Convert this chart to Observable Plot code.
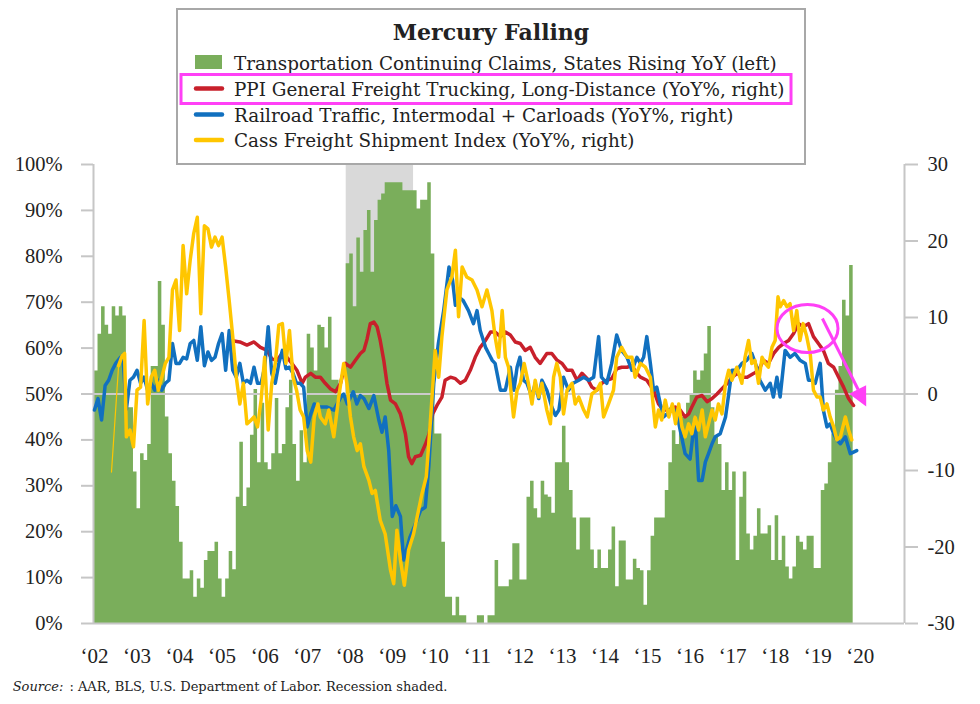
<!DOCTYPE html>
<html><head><meta charset="utf-8">
<script src="https://cdn.jsdelivr.net/npm/d3@7"></script>
<script src="https://cdn.jsdelivr.net/npm/@observablehq/plot@0.6"></script>
<style>
body{margin:0;background:#fff;}
#wrap{position:relative;width:980px;height:704px;overflow:hidden;background:#fff;}
#chart{position:absolute;left:0;top:0;}
#overlay{position:absolute;left:0;top:0;}
</style></head>
<body>
<div id="wrap"><div id="chart"></div>
<svg id="overlay" width="980" height="704" font-family="'DejaVu Serif', serif" fill="#222">
  <rect x="177" y="9" width="628" height="155" fill="#fff" stroke="#a8a8a8" stroke-width="2"/>
  <text x="491" y="40" text-anchor="middle" font-weight="bold" font-size="22">Mercury Falling</text>
  <rect x="195" y="55" width="27" height="14" fill="#7aae5b"/>
  <line x1="196" x2="222" y1="88.5" y2="88.5" stroke="#c8202b" stroke-width="4.5" stroke-linecap="round"/>
  <line x1="196" x2="222" y1="114.5" y2="114.5" stroke="#1170bf" stroke-width="4.5" stroke-linecap="round"/>
  <line x1="196" x2="222" y1="140" y2="140" stroke="#ffc600" stroke-width="4.5" stroke-linecap="round"/>
  <g font-size="18.35">
    <text x="234" y="70">Transportation Continuing Claims, States Rising YoY (left)</text>
    <text x="234" y="95.7">PPI General Freight Trucking, Long-Distance (YoY%, right)</text>
    <text x="234" y="121.7">Railroad Traffic, Intermodal + Carloads (YoY%, right)</text>
    <text x="234" y="147.3">Cass Freight Shipment Index (YoY%, right)</text>
  </g>
  <rect x="181" y="74.5" width="610" height="29" fill="none" stroke="#ff40f6" stroke-width="3"/>
  <text x="12.7" y="690.7" font-size="13"><tspan font-style="italic">Source:</tspan><tspan dx="6">: AAR, BLS, U.S. Department of Labor. Recession shaded.</tspan></text>
</svg>
</div>
<script>
// ---------- data ----------
const startYear = 2002; // month index 0 = Jan 2002
// Transportation continuing claims, % of states rising YoY (left axis), monthly Jan 2002 – Oct 2019
const claimsPct = [
55,63,69,65,63,69,67,69,67,47,
47,33,25,37,35.5,39,56,56,74.5,65,
45,37,31,25.5,17.7,9.7,9.7,11.5,5.7,9.7,
7.7,13.7,15.7,15.7,17.7,9.7,5.7,9.7,15.7,11.7,
27.5,39.5,25.5,29.5,41,51,35,48,35,33.5,
37,49,37,39,47,53,39,31,42,35,
63,60,55,65,64.5,60,66.7,53,53,50,
50,78.4,80.5,69,84,76.5,85.6,90,76.5,87.8,
92.2,93.6,96,96,96,96,96,94.3,94.3,94.3,
94.3,90.3,92.2,92.2,96,80.5,41.3,41.3,17.7,5.7,
5.7,1.7,5.7,1.7,1.7,0,0,0,1.7,1.7,
0,1.7,1.7,13.7,8,8,8,9.5,17.4,17.4,
9.5,9.5,27.5,31,25,23,31,28,27.5,24,
35,35,43,35,29,23,16,23,23,23,
16,12,16,12,12,16,21,8,18,18,
9.5,9.5,14,12,11.5,4,11.5,19,23,23,
23,29,35,42,39,45,45,48,50,55,
53,55,58.7,64.7,47,40.6,39,29,35,29,
33,13.7,27.5,33,19.5,16,19,25,19.5,19.5,
21.3,13.7,23.5,13.7,19,12.3,9.7,12.3,19,17.7,
16,19,19,12,12,29,30.4,35,41.3,50.8,
56,70.4,67,78];

// [month index, YoY %] (right axis)
const ppiSeries = [
[38.5,7.0],[41,6.8],[43,6.4],[45,6.8],[46.8,6.1],[48.7,5.7],[50,4.6],[51.5,4.4],[52.9,5.3],[54.3,4.8],[55.7,4.0],[57.1,3.1],[58.6,1.4],[59.5,2.2],[61,2.7],[62.3,2.2],
[63.7,2.2],[65.1,1.4],[66.5,0.7],[68,0.3],[69.4,1.4],[70.8,4.0],[72.2,3.5],[73.6,4.4],[75,5.3],[76,5.7],[76.9,7.2],[77.8,9.2],[78.8,9.4],[79.7,8.8],[80.6,7.0],[81.6,4.4],[82.5,1.4],[83.5,-0.8],[84.9,-1.3],[86.3,-2.6],[87.7,-5.2],[88.6,-8.2],[89.5,-9.1],[90.5,-8.2],[92,-8.0],[93.4,-6.5],[94.4,-5.2],[95.4,-2.6],[96.6,-1.5],[98,-0.4],[98.9,1.8],[100.4,2.2],[101.8,2.0],[103.2,1.4],[104.6,1.8],[106,3.1],[107.4,4.8],[108.8,6.1],[110.3,7.0],[111.7,8.1],[113,8.1],[114.5,7.5],[115.9,8.1],[117.3,7.7],[118.7,6.8],[120.1,6.6],[121.5,5.7],[122.9,6.1],[124.3,4.8],[125.7,4.0],[127.6,5.3],[129,5.3],[130.5,4.4],[131.9,4.0],[133.3,3.1],[134.7,3.1],[136.1,1.8],[137.5,2.7],[139,2.0],[140.3,0.9],[141.7,0.5],[143.1,1.4],[144.5,1.8],[145.9,2.0],[147.3,3.3],[148.7,3.5],[150.2,3.5],[151.6,3.7],[153,2.7],
[154,2.2],[155.8,1.8],[157.7,0.5],[159.1,-1.3],[160.5,-2.1],[162.4,-2.1],[163.8,-1.7],[165.2,-2.1],[166.6,-3],[167.6,-2.6],[168.5,-1.7],[169.9,-0.4],[171.4,-0.2],[172.8,-1.0],[174.2,-0.6],[175.6,0],[177,0.7],[178.5,1.4],[179.9,2.2],[181.3,2.7],[182.7,2.2],[184.1,2.2],[186,2.7],[187.3,3.1],[188.7,4.4],[190.1,4.0],[191.6,5.3],[193,6.1],[194.4,6.6],[195.8,7.0],[197.2,7.9],[198.6,9.2],[200,8.8],[201.4,9.2],[202.8,7.5],[204.2,6.6],[205.6,5.7],[207,4.0],[208.5,3.5],[209.9,2.2],[211.3,0.9],[212.7,-0.6],[214.1,-1.5]];

const railSeries = [
[0,-2.1],[1,-0.6],[2,-3.4],[3,1.1],[4,1.8],[5,3.1],[6,4.0],[7,4.6],[8,5.1],[9,-2.0],[10,1.8],[11,2.2],[12,3.1],[13,1.4],[14,2.2],[15,0.5],[16,1.4],[17,0.5],[18,1.8],[19,0.5],[20,1.4],[21,1.8],[22,6.6],[23,4.0],[24,4.0],[25,4.8],[26,4.6],[27,6.6],[28,7.0],[29,4.4],[30,8.8],[31,3.7],[32,5.5],[33,4.4],[34,4.8],[35,6.6],[36,7.9],[37,3.1],[38,8.3],[39,3.1],[40,2.2],[41,4.0],[42,1.4],[43,1.8],[44,1.4],[45,3.5],[46,1.4],[47,1.4],[48,3.5],[49,8.8],[50,2.7],[51,1.4],[52,4.0],[53,5.7],[54,3.3],[55,3.5],[56,2.7],[57,1.4],[58,1.4],[59,0.9],[60,-4.3],[61,-2.6],[62,-1.3],[63,-1.7],
[65.6,-1.7],[67.5,-2.1],[69.5,-0.4],[70.3,0],[71.3,-1.3],[73,0.3],[74,-1.3],[75,-0.2],[76,-0.6],[77.4,-1.9],[78.8,-0.2],[80.2,-3.4],[81.1,-5],[82,-3],[83,-7.4],[84,-16],[85,-14.6],[86.3,-16],[87.2,-21.7],[88,-20.4],[89,-18.7],[90.5,-17],[92,-15.2],[93.3,-14.8],[94.3,-9.5],[95.7,1.4],[97,6.6],[98.5,10.9],[100,16.6],[101,14.9],[101.8,11.6],[102.7,12.7],[104,12.2],[105.5,10.9],[106.9,9.2],[107.9,10.9],[108.8,8.3],[110.3,6.1],[111.2,5.3],[112.2,4.4],[113,4.0],[114.5,0.5],[115.9,0.5],[117.3,3.5],[118.3,0.5],[119.2,3.5],[120,4.8],[121,1.8],[122,1.4],[123.4,-0.4],[124.3,1.4],[125.3,-0.6],[126.2,1.8],[127.6,0.5],[129,-1.7],[130,-2.8],[131,-2.1],[132.3,2.2],[133.7,0.5],[135,1.4],[136.6,1.8],[138,2.2],[139.4,1.8],[140.8,2.2],[142.2,7.5],[143,2.2],[144.5,1.4],[145.9,4.0],[147.3,7.7],[148.7,5.7],[150.2,4.8],[151.6,3.1],[153,4.8],
[154,4.0],[154.9,4.8],[155.8,7.5],[156.8,4.0],[157.7,0.5],[158.6,0.9],[159.6,-1.3],[160.5,-3],[161.5,-2.6],[162.9,-1.7],[164.3,-2.6],[165.2,-4.7],[166.6,-7.8],[168,-8.5],[169.4,-3],[170.4,-11.3],[171.4,-11.3],[172.3,-8.9],[173.2,-7.8],[174.2,-6.5],[175.1,-5.6],[176.5,-5.2],[178,-3],[178.9,0],[179.8,3.1],[181.2,3.1],[182.6,4.0],[184,4.4],[185.4,5.3],[186.8,3.5],[187.7,1.8],[189.2,0.5],[190.6,1.4],[191.5,-0.4],[192.5,2.2],[193.4,-0.4],[194.8,5.7],[196.2,4.8],[197.6,5.3],[199,4.4],[200.5,4.0],[201.4,1.8],[202.4,1.8],[203.3,1.4],[204.7,4.0],[205.6,-2.1],[206.6,-4.3],[207.5,-3.9],[208.5,-5.2],[209.4,-6],[210.4,-6.5],[211.8,-5.6],[213.2,-7.8],[215,-7.4]];

const cassLead = [[4.8,-10.2],[6.8,3.7]];
const cassSeries = [
[6.8,3.7],[7.8,5.0],[8.5,5.3],[9,-5.6],[10,-4.7],[11,-6.9],[12,0.5],[13,0.9],[14,9.6],[15,-1.3],[16,2.2],[17,3.1],[18,0.5],[19,2.2],[20,4.0],[21,4.8],[22,13.6],[23,14.9],[24,8.3],[25,19.4],[26,13.1],[27,17.5],[28,21],[29,23.1],[30,10.5],[31,22],[32,21.6],[33,19.2],[34,20.5],[35,19.4],[36,20.5],[37,16.6],[38,12.2],[39,7.5],[40,2.2],[41,-1.3],[42,1.4],[43,-3.9],[44,-3.5],[45,-3],[46,-4.3],[47,-0.8],[48,4.8],[49,-4.7],[50,1.4],[51,4.0],[52,9],[53,9.2],[54,4.0],[55,8.3],[56,2.2],[57,0.5],[58,-2.1],[59,-3],[60,-7.4],[61,-8.9],[62,-3],[63,-1.3],
[63.7,-3],[65.1,-3.9],[66.1,-2.1],[67.5,-5.6],[68.9,-0.4],[70.3,4.0],[71.2,1.4],[72.2,-3],[73.1,-5.6],[74.1,-7.4],[75,-6.5],[76,-9.5],[77.4,-11.3],[78.3,-13],[79.2,-12.6],[80.6,-16.5],[82,-18.3],[83.5,-23],[84.4,-24.8],[85.3,-17.8],[86.3,-21.7],[87.4,-25],[88.6,-20.4],[90,-18.3],[91.4,-15.2],[92.4,-13],[93.6,-10.8],[94.7,-3.9],[96.1,5.7],[97.1,2.2],[98,7.5],[99.4,13.6],[100.8,15.3],[101.8,18.8],[102.7,10.1],[103.7,16.6],[105,15.3],[106.5,14.9],[107.9,13.6],[109.3,11.4],[110.7,13.6],[112.1,10.9],[113,7.5],[114,4.8],[115,10.9],[115.9,4.8],[116.8,3.5],[118.2,-3],[119.2,0.5],[120.1,1.4],[121.2,4.0],[122.4,1.4],[123.4,-1.3],[124.3,1.8],[125.3,-0.4],[126.2,1.4],[127.6,-2.1],[128.6,-3.9],[129.5,2.2],[130.4,4.0],[131.4,2.2],[132.3,-2.6],[133.3,0.5],[134.7,1.4],[135.6,-1.3],[136.6,-0.4],[138,-2.1],[139,-3],[140.3,0],[141.7,0.5],[142.7,1.4],[143.6,-3],[145,-1.3],[146.4,0.5],[147.3,4.8],[148.7,6.1],[150.2,4.8],[151.6,4.8],[152.5,2.2],
[154,4.0],[155.4,3.5],[156.8,2.2],[158.2,-4.3],[159.1,-2.1],[160,-3.4],[161,-0.8],[162,-3],[163,-1.3],[163.9,-3.9],[164.8,-1.3],[165.7,-4.3],[166.6,-5.6],[167.6,-3.9],[168.5,-5.2],[169.4,-3],[170.4,-4.7],[171.4,-2.1],[172.3,-5.6],[173.2,-3.9],[174.2,-2.1],[175.1,-3.4],[176,-1.3],[177,-2.6],[178,1.4],[178.9,3.1],[179.8,1.8],[181.2,3.5],[182.6,1.4],[183.5,4.8],[184.5,7.0],[185.4,4.0],[186.3,4.4],[187.3,1.4],[188.3,4.8],[189.2,4.0],[190.1,3.5],[191.1,6.1],[192,7.0],[192.8,12.7],[193.4,11.4],[194.4,12.2],[195.3,11.4],[196.2,11.8],[197.2,8.3],[198.1,10.9],[199,7.0],[199.9,9.2],[200.9,7.5],[201.9,5.2],[202.8,0.5],[203.8,-0.4],[204.7,-0.4],[205.6,-2.1],[206.6,-1.3],[207.5,-3],[208.5,-4.3],[209.4,-6],[210.4,-5.6],[211.8,-3],[212.7,-4.7],[213.6,-6]];

const recession = [{from: 2007.917, to: 2009.5}];
const yearTicks = [2002,2003,2004,2005,2006,2007,2008,2009,2010,2011,2012,2013,2014,2015,2016,2017,2018,2019,2020];
const leftTicks = [0,10,20,30,40,50,60,70,80,90,100];
const rightTicks = [-30,-20,-10,0,10,20,30];
const xDomain = [2001.977, 2021.04];
// annotations (in data units: year, right-axis value)
const highlightEllipse = [{t: 2018.76, v: 8.56}];
const arrowShaft = [{t1: 2019.11, v1: 9.87, t2: 2019.95, v2: 0.59}];
const arrowTip = [{t: 2020.14, v: -1.63}];

// ---------- helpers ----------
const toLeft = r => 50 + r * 50 / 30;            // right axis (-30..30) onto left axis (0..100)
const monthT = m => startYear + m / 12;
// contiguous monthly columns: step outline, each month held until the next month starts
const barSteps = claimsPct.map((v, i) => ({t: monthT(i), v}))
  .concat([{t: monthT(claimsPct.length), v: claimsPct[claimsPct.length - 1]}]);
const asLine = s => s.map(([m, v]) => ({t: monthT(m), y: toLeft(v)}));

const magenta = "#ff40f6";
const ellipseSymbol = {draw(ctx) {
  const rx = 30.5, ry = 24, k = 0.5523;
  ctx.moveTo(rx, 0);
  ctx.bezierCurveTo(rx, k*ry, k*rx, ry, 0, ry);
  ctx.bezierCurveTo(-k*rx, ry, -rx, k*ry, -rx, 0);
  ctx.bezierCurveTo(-rx, -k*ry, -k*rx, -ry, 0, -ry);
  ctx.bezierCurveTo(k*rx, -ry, rx, -k*ry, rx, 0);
  ctx.closePath();
}};
const triangleSymbol = {draw(ctx) {
  // tip at origin, pointing down-right along the shaft
  const dx = 0.452, dy = 0.892, len = 19, hw = 9.5;
  const bx = -dx*len, by = -dy*len;
  ctx.moveTo(0, 0);
  ctx.lineTo(bx + dy*hw, by - dx*hw);
  ctx.lineTo(bx - dy*hw, by + dx*hw);
  ctx.closePath();
}};

const axisColor = "#c6c6c6";
const chart = Plot.plot({
  width: 980, height: 704,
  marginTop: 164, marginBottom: 81, marginLeft: 93, marginRight: 76,
  style: {fontFamily: "'Liberation Serif', serif", fontSize: "20px", color: "#222", background: "transparent", overflow: "visible"},
  x: {domain: xDomain, axis: null},
  y: {domain: [0, 100], axis: null},
  marks: [
    Plot.rect(recession, {x1: "from", x2: "to", y1: 0, y2: 100, fill: "#d9d9d9"}),
    Plot.areaY(barSteps, {x: "t", y: "v", curve: "step-after", fill: "#7aae5b"}),
    Plot.ruleY([toLeft(0)], {stroke: "#cbcbcb", strokeWidth: 2}),
    Plot.ruleX([xDomain[0], xDomain[1]], {stroke: axisColor, strokeWidth: 2}),
    Plot.ruleY([0], {stroke: axisColor, strokeWidth: 2}),
    Plot.axisY({ticks: leftTicks, anchor: "left", tickSize: 12, tickPadding: 19, tickFormat: d => d + "%", stroke: axisColor, strokeWidth: 2, fontSize: 20.5, label: null}),
    Plot.axisY({ticks: rightTicks.map(toLeft), anchor: "right", tickSize: 13, tickPadding: 10, tickFormat: v => String(Math.round((v - 50) * 30 / 50)), stroke: axisColor, strokeWidth: 2, fontSize: 20.5, label: null}),
    Plot.axisX({ticks: yearTicks, anchor: "bottom", tickSize: 0, tickPadding: 25, tickFormat: d => "\u2018" + String(d).slice(2), fontSize: 21, label: null}),
    Plot.line(asLine(ppiSeries), {x: "t", y: "y", stroke: "#c8202b", strokeWidth: 3.5}),
    Plot.line(asLine(railSeries), {x: "t", y: "y", stroke: "#1170bf", strokeWidth: 3.5}),
    Plot.line(asLine(cassLead), {x: "t", y: "y", stroke: "#ffc600", strokeWidth: 1.2}),
    Plot.line(asLine(cassSeries), {x: "t", y: "y", stroke: "#ffc600", strokeWidth: 3.5}),
    Plot.dot(highlightEllipse, {x: "t", y: d => toLeft(d.v), r: 1, symbol: ellipseSymbol, stroke: magenta, strokeWidth: 3, fill: "none"}),
    Plot.link(arrowShaft, {x1: "t1", y1: d => toLeft(d.v1), x2: "t2", y2: d => toLeft(d.v2), stroke: magenta, strokeWidth: 3}),
    Plot.dot(arrowTip, {x: "t", y: d => toLeft(d.v), r: 1, symbol: triangleSymbol, fill: magenta, stroke: "none"})
  ]
});
document.getElementById("chart").appendChild(chart);
</script>
</body></html>
